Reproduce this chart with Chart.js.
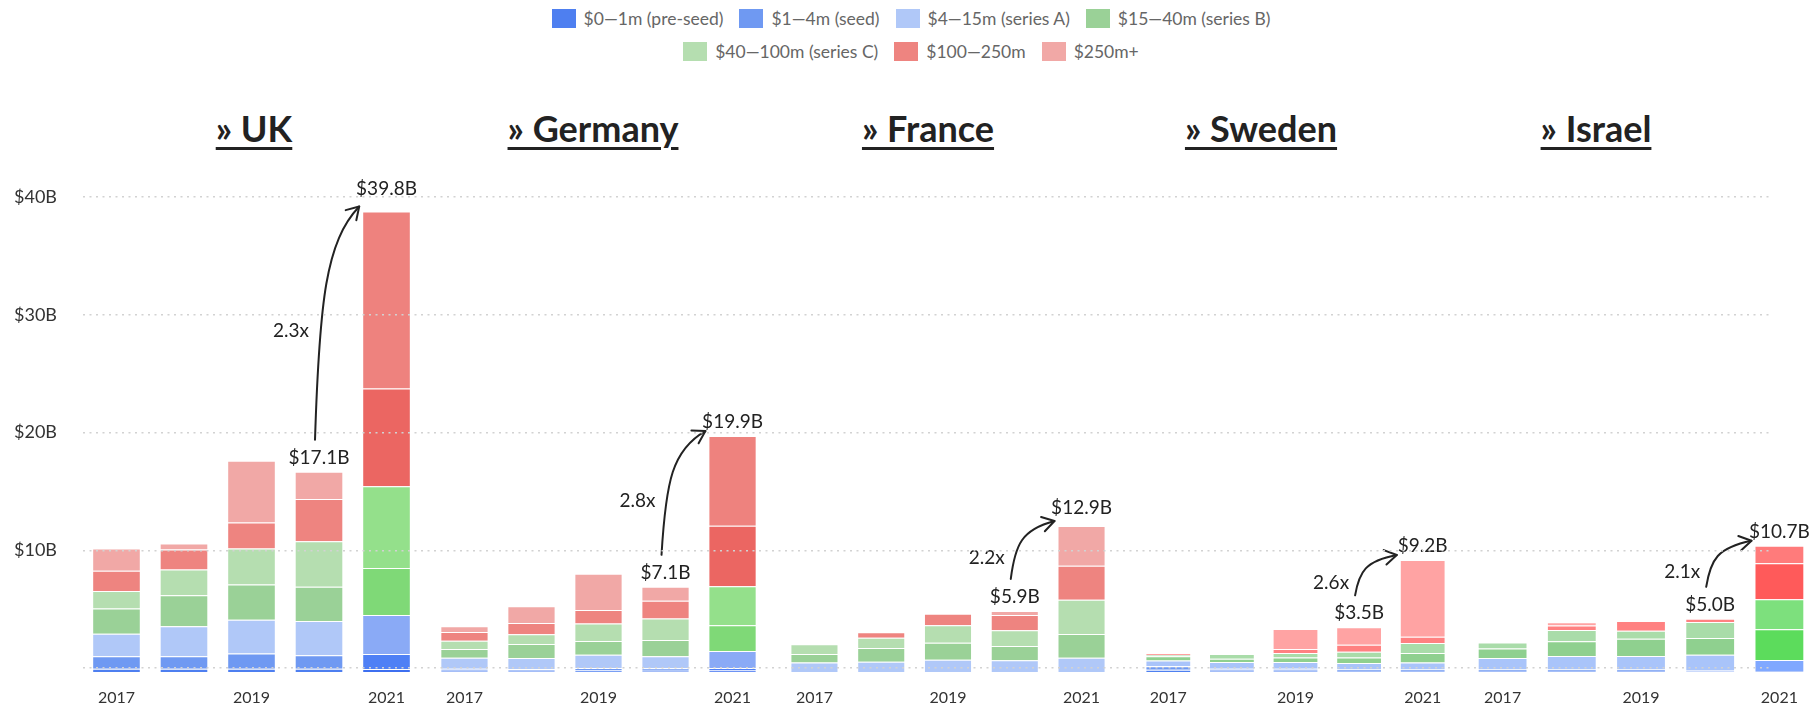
<!DOCTYPE html>
<html>
<head>
<meta charset="utf-8">
<script src="https://cdn.jsdelivr.net/npm/chart.js@4.4.0/dist/chart.umd.min.js"></script>
<style>
  html, body { margin: 0; padding: 0; background: #fff; }
  body { width: 1810px; height: 705px; overflow: hidden; position: relative; font-family: Lato, sans-serif; }
  .legend { position: absolute; left: 12px; right: 0; top: 2px; }
  .legend .row { display: flex; justify-content: center; align-items: center; height: 33px; }
  .legend .item { display: flex; align-items: center; margin: 0 8px; font-size: 17.5px; color: #666; }
  .legend .box { width: 24px; height: 19px; margin-right: 8px; }
  .title { position: absolute; top: 106px; transform: translateX(-50%); font-weight: 700; font-size: 36px; color: #222;
           text-decoration: underline; text-decoration-thickness: 3px; text-underline-offset: 5px; white-space: nowrap; }
  .plot { position: absolute; top: 0; height: 705px; z-index: 1; }
  #gridBox { position: absolute; left: 0; top: 0; width: 1810px; height: 705px; z-index: 2; pointer-events: none; }
</style>
</head>
<body>
<div class="legend" id="legend"></div>
<div id="gridBox"><canvas id="grid"></canvas></div>
<script>
const years = ['2017', '2018', '2019', '2020', '2021'];
const brackets = ['$0—1m (pre-seed)', '$1—4m (seed)', '$4—15m (series A)', '$15—40m (series B)',
                  '$40—100m (series C)', '$100—250m', '$250m+'];
const countries = ['UK', 'Germany', 'France', 'Sweden', 'Israel'];
const yTicks = [0, 10, 20, 30, 40];

// $B raised, one row per bracket, one column per year
const ukValues = [
  [0.28, 0.28, 0.28, 0.28, 0.25],
  [1.04, 1.04, 1.27, 1.13, 1.26],
  [1.91, 2.53, 2.86, 2.89, 3.30],
  [2.11, 2.62, 2.95, 2.87, 3.95],
  [1.49, 2.16, 3.04, 3.85, 6.89],
  [1.69, 1.68, 2.19, 3.54, 8.23],
  [1.88, 0.51, 5.20, 2.30, 14.90]
];
const germanyValues = [
  [0.10, 0.10, 0.12, 0.10, 0.12],
  [0.18, 0.15, 0.22, 0.21, 0.22],
  [0.93, 0.93, 1.12, 1.01, 1.43],
  [0.73, 1.18, 1.15, 1.38, 2.16],
  [0.70, 0.82, 1.47, 1.80, 3.29],
  [0.73, 0.95, 1.15, 1.49, 5.09],
  [0.48, 1.41, 3.04, 1.18, 7.56]
];
const franceValues = [
  [0, 0, 0, 0, 0],
  [0, 0, 0, 0, 0],
  [0.79, 0.87, 1.04, 0.98, 1.21],
  [0.73, 1.15, 1.43, 1.21, 2.00],
  [0.82, 0.87, 1.46, 1.32, 2.87],
  [0, 0.45, 0.98, 1.29, 2.87],
  [0, 0, 0, 0.34, 3.34]
];
const swedenValues = [
  [0.20, 0.10, 0.10, 0.08, 0.08],
  [0.28, 0.18, 0.18, 0.14, 0.14],
  [0.48, 0.56, 0.56, 0.53, 0.59],
  [0.37, 0.28, 0.39, 0.48, 0.79],
  [0.11, 0.39, 0.37, 0.48, 0.84],
  [0.11, 0, 0.34, 0.59, 0.53],
  [0, 0, 1.69, 1.46, 6.46]
];
const israelValues = [
  [0.08, 0.08, 0.08, 0.05, 0.03],
  [0.14, 0.14, 0.14, 0.09, 0.05],
  [0.96, 1.12, 1.12, 1.31, 0.93],
  [0.79, 1.26, 1.45, 1.42, 2.60],
  [0.52, 0.93, 0.68, 1.34, 2.51],
  [0, 0.38, 0.82, 0.27, 3.03],
  [0, 0.27, 0, 0, 1.48]
];
const countryValues = [ukValues, germanyValues, franceValues, swedenValues, israelValues];

// labelled totals 2020 -> 2021 and growth multiple
const totals2020 = [17.1, 7.1, 5.9, 3.5, 5.0];
const totals2021 = [39.8, 19.9, 12.9, 9.2, 10.7];
const multiples = ['2.3x', '2.8x', '2.2x', '2.6x', '2.1x'];

// colours
const basePal = ['#4e7ff0', '#6f99f2', '#b0c8f8', '#9ad197', '#b5deb0', '#ee8480', '#f1a8a6'];
const hotPal = ['#3d6ff0', '#4f80f5', '#8aaaf6', '#7fd977', '#94e08b', '#eb6662', '#ee827e'];
const brightPal = ['#4e80f0', '#6f99f2', '#a9c4fa', '#8fd08f', '#a9dca9', '#ff8181', '#ffa3a3'];
const brightHotPal = ['#3d6ff0', '#4f80f5', '#80a8ff', '#5cdc5c', '#7de07d', '#ff5a5a', '#ff7b7b'];
const countryPal = [[basePal, hotPal], [basePal, hotPal], [basePal, basePal], [brightPal, brightPal], [brightPal, brightHotPal]];

// layout: [left, width] of each plot area, and title centres
const plotBoxes = [[82, 339], [430, 337], [780, 336], [1134, 323], [1468, 346]];
const titleCenters = [254, 593, 928, 1261, 1596];

const FONT = 'Lato';

// legend
const legendEl = document.getElementById('legend');
[[0, 4], [4, 7]].forEach(([a, b]) => {
  const row = document.createElement('div');
  row.className = 'row';
  for (let k = a; k < b; k++) {
    const it = document.createElement('div');
    it.className = 'item';
    const sw = document.createElement('span');
    sw.className = 'box';
    sw.style.background = basePal[k];
    it.appendChild(sw);
    it.appendChild(document.createTextNode(brackets[k]));
    row.appendChild(it);
  }
  legendEl.appendChild(row);
});

// arrows + labels over 2020/2021 bars
const growthPlugin = {
  id: 'growth',
  afterDatasetsDraw(chart, args, opts) {
    const meta = chart.getDatasetMeta(chart.data.datasets.length - 1);
    const a = meta.data[3], b = meta.data[4];
    const yScale = chart.scales.y;
    const ctx = chart.ctx;
    ctx.save();
    ctx.fillStyle = '#222';
    ctx.strokeStyle = '#222';
    ctx.font = '19px ' + FONT;
    ctx.textAlign = 'center';
    ctx.textBaseline = 'middle';
    const fromY = a.y - 14;
    const toY = Math.min(b.y - 14, yScale.getPixelForValue(opts.toValue) - 11);
    ctx.fillText('$' + opts.fromValue.toFixed(1) + 'B', a.x, fromY);
    ctx.fillText('$' + opts.toValue.toFixed(1) + 'B', b.x, toY);

    const x0 = a.x - 4, y0 = fromY - 18;
    const x1 = b.x - b.width / 2 - 3, y1 = b.y - 5;
    const dx = x1 - x0, dy = y0 - y1;
    const c1x = x0 + 0.1 * dx, c1y = y0 - 0.6 * dy;
    const c2x = x0 + 0.25 * dx, c2y = y1 + 0.15 * dy;
    ctx.lineWidth = 2;
    ctx.lineCap = 'round';
    ctx.beginPath();
    ctx.moveTo(x0, y0);
    ctx.bezierCurveTo(c1x, c1y, c2x, c2y, x1, y1);
    ctx.stroke();
    const ang = Math.atan2(y1 - c2y, x1 - c2x);
    ctx.beginPath();
    [0.55, -0.55].forEach(d => {
      ctx.moveTo(x1, y1);
      ctx.lineTo(x1 - 14 * Math.cos(ang + d), y1 - 14 * Math.sin(ang + d));
    });
    ctx.stroke();
    ctx.fillText(opts.multText, x0 - 24, (y0 + y1) / 2 + 8);
    ctx.restore();
  }
};

const barCharts = countries.map((name, c) => {
  const [left, width] = plotBoxes[c];
  const box = document.createElement('div');
  box.className = 'plot';
  box.style.left = left + 'px';
  box.style.width = width + 'px';
  const cv = document.createElement('canvas');
  box.appendChild(cv);
  document.body.appendChild(box);

  const title = document.createElement('div');
  title.className = 'title';
  title.style.left = titleCenters[c] + 'px';
  title.textContent = '» ' + name;
  document.body.appendChild(title);

  const [pal, hot] = countryPal[c];
  return new Chart(cv, {
    type: 'bar',
    data: {
      labels: years,
      datasets: brackets.map((b, k) => ({
        label: b,
        data: countryValues[c][k],
        backgroundColor: years.map((y, j) => j === years.length - 1 ? hot[k] : pal[k]),
        borderColor: 'rgba(255,255,255,0.4)',
        borderWidth: 1
      }))
    },
    options: {
      responsive: true,
      maintainAspectRatio: false,
      animation: false,
      layout: { padding: { top: 197, bottom: 0, left: 0, right: 0 } },
      plugins: {
        legend: { display: false },
        tooltip: { enabled: false },
        growth: { fromValue: totals2020[c], toValue: totals2021[c], multText: multiples[c] }
      },
      scales: {
        x: {
          stacked: true,
          grid: { display: false, drawTicks: false },
          border: { display: false },
          ticks: {
            autoSkip: false, maxRotation: 0, padding: 16, color: '#333',
            font: { family: FONT, size: 16 },
            callback: (v, i) => i % 2 === 0 ? years[i] : ''
          },
          afterFit: s => { s.height = 33; }
        },
        y: { stacked: true, min: 0, max: 40, display: false }
      }
    },
    plugins: [growthPlugin]
  });
});

// shared y axis + dotted grid, drawn over the bars
const gridChart = new Chart(document.getElementById('grid'), {
  type: 'bar',
  data: { labels: [''], datasets: [] },
  options: {
    responsive: true,
    maintainAspectRatio: false,
    animation: false,
    layout: { padding: { top: 197, bottom: 33, left: 0, right: 40 } },
    plugins: { legend: { display: false }, tooltip: { enabled: false } },
    scales: {
      x: { display: false },
      y: {
        min: 0, max: 40,
        afterBuildTicks: s => { s.ticks = yTicks.map(v => ({ value: v })); },
        grid: { color: '#d2d2d2', lineWidth: 1.5, drawTicks: false },
        border: { display: false, dash: [2, 4.5] },
        ticks: {
          padding: 26, color: '#333', font: { family: FONT, size: 18 },
          callback: v => v === 0 ? '' : '$' + v + 'B'
        },
        afterFit: s => { s.width = 83; }
      }
    }
  }
});

// line the shared axis up with the bar charts' plot area
const refArea = barCharts[0].chartArea;
const pad = gridChart.options.layout.padding;
pad.top += refArea.top - gridChart.chartArea.top;
pad.bottom += gridChart.chartArea.bottom - refArea.bottom;
gridChart.update();
</script>
</body>
</html>
